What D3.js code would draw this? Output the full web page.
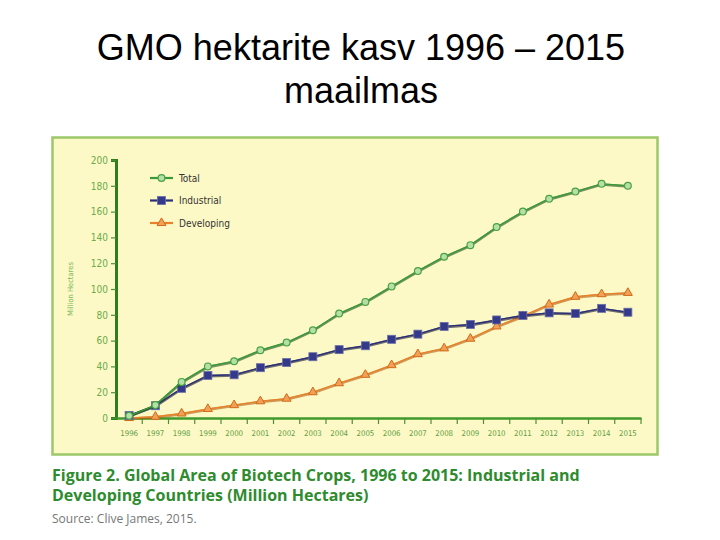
<!DOCTYPE html>
<html>
<head>
<meta charset="utf-8">
<script src="https://d3js.org/d3.v7.min.js"></script>
<style>
  body { margin: 0; background: #fff; }
  svg { display: block; }
</style>
</head>
<body>
<div id="chart"></div>
<script>
// andmed (loetud pildilt)
const years = ["1996","1997","1998","1999","2000","2001","2002","2003","2004","2005",
               "2006","2007","2008","2009","2010","2011","2012","2013","2014","2015"];
const yearLabels = ["1996","1997","1998","1999","2000","2001","2002","2003","2004","2005",
               "2006","2007","2008","2009","2010","2011","2012","2013","2014","2015"];
const total = [1.7, 10, 28, 40, 44, 52.5, 58.5, 68, 81, 90, 102, 114, 125, 134, 148, 160, 170, 175.5, 181.5, 180];
const industrial = [2, 9.5, 23, 33, 33.5, 39, 43, 47.5, 53, 56, 61, 65, 71, 72.5, 76, 79.5, 81.5, 81, 85, 82];
const developing = [0, 1, 3.5, 7, 10, 13, 15, 20, 27, 33.5, 41, 49.5, 54, 61.5, 71, 79, 88, 94, 96, 97];
const yTicks = [0, 20, 40, 60, 80, 100, 120, 140, 160, 180, 200];
const seriesNames = ["Total", "Industrial", "Developing"];

const W = 720, H = 540;
const svg = d3.select("#chart").append("svg").attr("width", W).attr("height", H);

// pealkiri
svg.append("text").attr("x", 361).attr("y", 60).attr("text-anchor", "middle")
  .style("font-family", "Liberation Sans, Arial, sans-serif").style("font-size", "36px")
  .text("GMO hektarite kasv 1996 – 2015");
svg.append("text").attr("x", 361).attr("y", 103).attr("text-anchor", "middle")
  .style("font-family", "Liberation Sans, Arial, sans-serif").style("font-size", "36px")
  .text("maailmas");

// paneel
svg.append("rect").attr("x", 52.5).attr("y", 137.5).attr("width", 605).attr("height", 317)
  .attr("fill", "#fdf9c6").attr("stroke", "#9cc86a").attr("stroke-width", 2.5);

const x = d3.scaleBand().domain(years).range([116, 641]).padding(0);
const y = d3.scaleLinear().domain([0, 200]).range([418, 160]);

// y telg
const yAxis = svg.append("g").attr("transform", "translate(116,0)")
  .call(d3.axisLeft(y).tickValues(yTicks).tickSize(5).tickPadding(3));
yAxis.select(".domain").attr("stroke", "#2f7d1f").attr("stroke-width", 3);
yAxis.selectAll(".tick line").attr("stroke", "#4d8f3a").attr("stroke-width", 1.2);
yAxis.selectAll(".tick text").attr("fill", "#6aab4a")
  .style("font-family", "DejaVu Sans Condensed, DejaVu Sans, sans-serif").style("font-size", "10px");

// x telg
const xAxis = svg.append("g").attr("transform", "translate(0,418)")
  .call(d3.axisBottom(x).tickFormat((d, i) => yearLabels[i]).tickSize(0).tickPadding(12));
xAxis.select(".domain").attr("stroke", "#3f9a2a").attr("stroke-width", 2.5);
xAxis.selectAll(".tick text").attr("fill", "#5f9f45")
  .style("font-family", "DejaVu Sans Condensed, DejaVu Sans, sans-serif").style("font-size", "7.8px");
// väikesed jaotised kategooriate vahel
svg.append("g").selectAll("line").data(years.slice(1))
  .join("line")
  .attr("x1", d => x(d)).attr("x2", d => x(d))
  .attr("y1", 418).attr("y2", 424)
  .attr("stroke", "#4d8f3a").attr("stroke-width", 1.2);
svg.append("line").attr("x1", 641).attr("x2", 641).attr("y1", 418).attr("y2", 424)
  .attr("stroke", "#4d8f3a").attr("stroke-width", 1.2);

// y telje nimi
svg.append("text").attr("transform", "translate(73,289) rotate(-90)")
  .attr("text-anchor", "middle").attr("fill", "#7ab85a")
  .style("font-family", "DejaVu Sans Condensed, DejaVu Sans, sans-serif").style("font-size", "7.5px")
  .text("Million Hectares");

const cx = d => x(d) + x.bandwidth() / 2;
const line = d3.line().x((d, i) => cx(years[i])).y(d => y(d));

function drawSeries(values, color, shadow, marker) {
  const g = svg.append("g");
  g.append("path").datum(values).attr("d", line).attr("fill", "none")
    .attr("stroke", shadow).attr("stroke-width", 2.6).attr("opacity", 0.6)
    .attr("transform", "translate(0,0.7)");
  g.append("path").datum(values).attr("d", line).attr("fill", "none")
    .attr("stroke", color).attr("stroke-width", 1.4);
  values.forEach((v, i) => marker(g, cx(years[i]), y(v)));
}

const circleMarker = (g, px, py) => g.append("circle").attr("cx", px).attr("cy", py).attr("r", 3.4)
  .attr("fill", "#b4e0a6").attr("stroke", "#4aa044").attr("stroke-width", 1.2);
const squareMarker = (g, px, py) => g.append("rect").attr("x", px - 4).attr("y", py - 4)
  .attr("width", 8).attr("height", 8).attr("fill", "#34398a").attr("stroke", "#6a6fa8").attr("stroke-width", 0.8);
const triMarker = (g, px, py) => g.append("path")
  .attr("d", d3.symbol().type(d3.symbolTriangle).size(34)())
  .attr("transform", `translate(${px},${py})`)
  .attr("fill", "#f2a055").attr("stroke", "#d06a1a").attr("stroke-width", 1);

drawSeries(developing, "#e8822a", "#b05a10", triMarker);
drawSeries(industrial, "#2a2f78", "#111133", squareMarker);
drawSeries(total, "#3a9a3a", "#1d4d1d", circleMarker);

// legend
const legendColors = ["#3a9a3a", "#2a2f78", "#e8822a"];
const legendMarkers = [circleMarker, squareMarker, triMarker];
seriesNames.forEach((name, i) => {
  const ly = 178 + i * 22.5;
  svg.append("line").attr("x1", 150).attr("x2", 173).attr("y1", ly).attr("y2", ly)
    .attr("stroke", legendColors[i]).attr("stroke-width", 2.2);
  legendMarkers[i](svg, 161.5, ly);
  svg.append("text").attr("x", 179).attr("y", ly + 3.5).attr("fill", "#333")
    .style("font-family", "DejaVu Sans Condensed, DejaVu Sans, sans-serif").style("font-size", "10px")
    .text(name);
});

// allkiri
const capStyle = t => t.attr("fill", "#2e8b2e")
  .style("font-family", "Open Sans, sans-serif").style("font-weight", "bold").style("font-size", "16px");
capStyle(svg.append("text").attr("x", 52).attr("y", 481)
  .text("Figure 2. Global Area of Biotech Crops, 1996 to 2015: Industrial and"));
capStyle(svg.append("text").attr("x", 52).attr("y", 501)
  .text("Developing Countries (Million Hectares)"));
svg.append("text").attr("x", 52).attr("y", 523).attr("fill", "#777")
  .style("font-family", "Open Sans, sans-serif").style("font-size", "12px")
  .text("Source: Clive James, 2015.");
</script>
</body>
</html>
